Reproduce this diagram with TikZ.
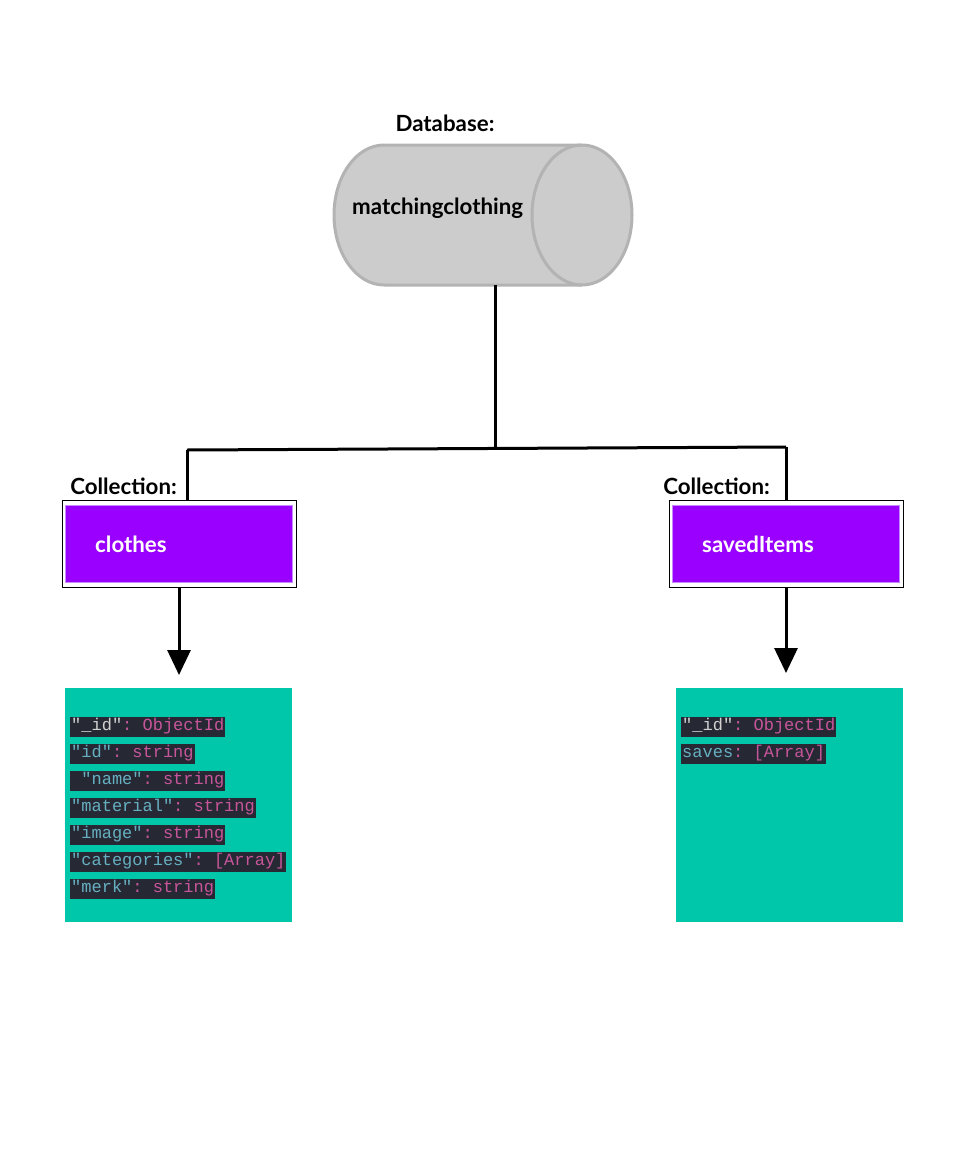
\documentclass[tikz,border=0pt]{standalone}
\usepackage{fontspec}
\setmainfont{Lato}
\setmonofont{Liberation Mono}
\usetikzlibrary{arrows.meta}
\definecolor{tealbg}{HTML}{00C7AA}
\definecolor{codebg}{HTML}{262934}
\definecolor{keyc}{HTML}{66AFC0}
\definecolor{idc}{HTML}{D0D0D0}
\definecolor{valc}{HTML}{C7559A}
\definecolor{purp}{HTML}{9900FF}
\definecolor{purpline}{HTML}{C48BFF}
\definecolor{dbfill}{HTML}{CCCCCC}
\definecolor{dbline}{HTML}{B3B3B3}
\tikzset{
  lbl/.style={font=\fontsize{22.3}{26}\selectfont\bfseries, inner sep=0pt},
  outerbox/.style={draw=black, line width=1pt, fill=white, minimum width=234pt, minimum height=87pt, inner sep=0pt},
  collbox/.style={draw=purpline, line width=0.8pt, fill=purp, minimum width=227pt, minimum height=77pt, inner sep=0pt},
  collname/.style={font=\fontsize{22.3}{26}\selectfont\bfseries, text=white, inner sep=0pt, anchor=west},
  docbox/.style={fill=tealbg, minimum width=227pt, minimum height=234pt, inner sep=0pt},
  codeline/.style={fill=codebg, anchor=west, inner xsep=1pt, inner ysep=0pt, text height=13pt, text depth=7pt, font=\fontsize{17}{20}\selectfont\ttfamily},
  dbshape/.style={draw=dbline, line width=3pt, fill=dbfill},
  conn/.style={line width=3pt, black},
  arr/.style={conn, -{Triangle[width=23pt,length=25pt]}},
}
\newcommand{\kv}[2]{\textcolor{keyc}{#1}\textcolor{valc}{: #2}}
\begin{document}
\begin{tikzpicture}[x=1pt,y=-1pt]
\useasboundingbox (0,0) rectangle (959,1167);
% database
\node[lbl] (dblabel) at (445,123) {Database:};
\draw[dbshape] (582,145) -- (384,145)
  arc[start angle=-90, end angle=-270, x radius=50, y radius=70]
  -- (582,285)
  arc[start angle=90, end angle=-90, x radius=50, y radius=70] -- cycle;
\draw[dbshape, fill=none] (582,145) arc[start angle=-90, end angle=-270, x radius=50, y radius=70];
\node[inner sep=0pt, minimum width=298pt, minimum height=140pt] (db) at (483,215) {};
\node[lbl, anchor=west] (dbname) at (352,208) {matchingclothing};
% junctions
\coordinate (j) at (495,447);
\coordinate (jl) at (187,450);
\coordinate (jr) at (786,447);
% collections
\node[outerbox] (co) at (179,543.5) {};
\node[collbox] (c) at (178.5,543.5) {};
\node[collname] (cn) at (95,544) {clothes};
\node[outerbox] (so) at (786,543.5) {};
\node[collbox] (s) at (785.5,543.5) {};
\node[collname] (sn) at (702,544) {savedItems};
\node[lbl, anchor=east] (cl1) at (177,486) {Collection:};
\node[lbl, anchor=east] (cl2) at (770,486) {Collection:};
% connectors
\draw[conn] (db.south -| j) -- (j);
\draw[conn] (jl) -- (jr);
\draw[conn] (jl) -- (co.north -| jl);
\draw[conn] (jr) -- (so.north -| jr);
% documents
\node[docbox] (d1) at (178.5,805) {};
\node[docbox] (d2) at (789.5,805) {};
\draw[arr] (co.south -| 179,0) -- (179,675);
\draw[arr] (so.south) -- (786,673);
% code lines left
\node[codeline] (a1) at (70,727) {\textcolor{idc}{"\_id"}\textcolor{valc}{: ObjectId}};
\node[codeline] (a2) at (70,754) {\kv{"id"}{string}};
\node[codeline] (a3) at (70,781) {\kv{\ "name"}{string}};
\node[codeline] (a4) at (70,808) {\kv{"material"}{string}};
\node[codeline] (a5) at (70,835) {\kv{"image"}{string}};
\node[codeline] (a6) at (70,862) {\kv{"categories"}{[Array]}};
\node[codeline] (a7) at (70,889) {\kv{"merk"}{string}};
% code lines right
\node[codeline] (b1) at (681,727) {\textcolor{idc}{"\_id"}\textcolor{valc}{: ObjectId}};
\node[codeline] (b2) at (681,754) {\kv{saves}{[Array]}};
\end{tikzpicture}
\end{document}
